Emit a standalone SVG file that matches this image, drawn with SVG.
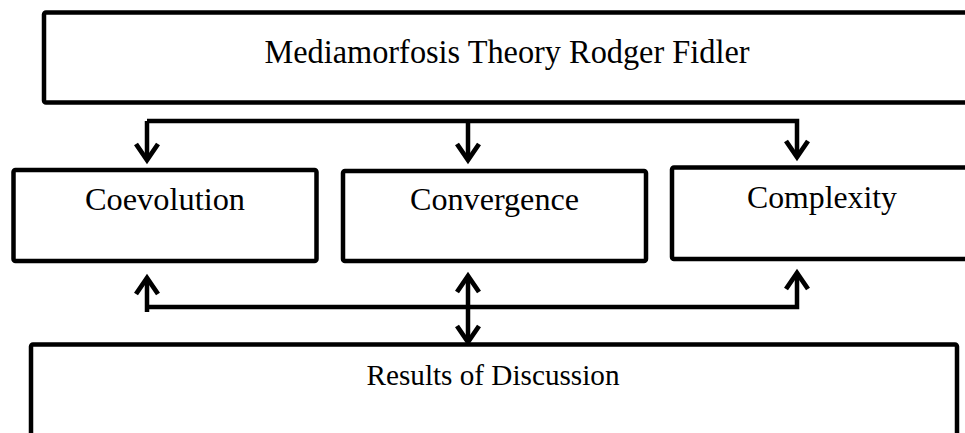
<svg xmlns="http://www.w3.org/2000/svg" width="965" height="433" viewBox="0 0 965 433">
<style>
.box{fill:#fff;stroke:#000;stroke-width:4.5;stroke-linejoin:round}
.ln{fill:none;stroke:#000;stroke-width:4.5;stroke-linejoin:miter;stroke-linecap:butt}
.hd{fill:none;stroke:#000;stroke-width:4.8;stroke-linejoin:miter;stroke-linecap:butt}
.t{font-family:"Liberation Serif","Times New Roman",serif;fill:#000;text-anchor:middle}
</style>
<rect width="965" height="433" fill="#fff"/>
<g id="title">
<rect class="box" x="44" y="12.5" width="935" height="90" rx="2"/>
<text class="t" x="507" y="63" font-size="33" textLength="485" lengthAdjust="spacingAndGlyphs">Mediamorfosis Theory Rodger Fidler</text>
</g>
<g id="coevolution">
<rect class="box" x="13.5" y="170" width="303" height="91" rx="2"/>
<text class="t" x="165" y="210" font-size="31" textLength="160" lengthAdjust="spacingAndGlyphs">Coevolution</text>
</g>
<g id="convergence">
<rect class="box" x="343" y="171" width="303" height="90" rx="2"/>
<text class="t" x="494.5" y="210" font-size="31" textLength="169" lengthAdjust="spacingAndGlyphs">Convergence</text>
</g>
<g id="complexity">
<rect class="box" x="672" y="167.5" width="310" height="91.5" rx="2"/>
<text class="t" x="822" y="208" font-size="31" textLength="150" lengthAdjust="spacingAndGlyphs">Complexity</text>
</g>
<g id="results">
<rect class="box" x="31" y="344.5" width="926" height="100" rx="2"/>
<text class="t" x="493" y="385" font-size="30" textLength="253" lengthAdjust="spacingAndGlyphs">Results of Discussion</text>
</g>
<g id="connectors">
<path class="ln" d="M147 121 H797 V155"/>
<path class="ln" d="M147 121 V158"/>
<path class="ln" d="M468 121 V158"/>
<path class="hd" d="M136 144 L147 160 L158 144"/>
<path class="hd" d="M457 144 L468 160 L479 144"/>
<path class="hd" d="M786 141 L797 157 L808 141"/>
<path class="ln" d="M147 312 V281 M147 307 H797 V276"/>
<path class="ln" d="M468 279 V339"/>
<path class="hd" d="M136 294 L147 278 L158 294"/>
<path class="hd" d="M457 292 L468 276 L479 292"/>
<path class="hd" d="M786 289 L797 273 L808 289"/>
<path class="hd" d="M457 326 L468 342 L479 326"/>
</g>
</svg>
